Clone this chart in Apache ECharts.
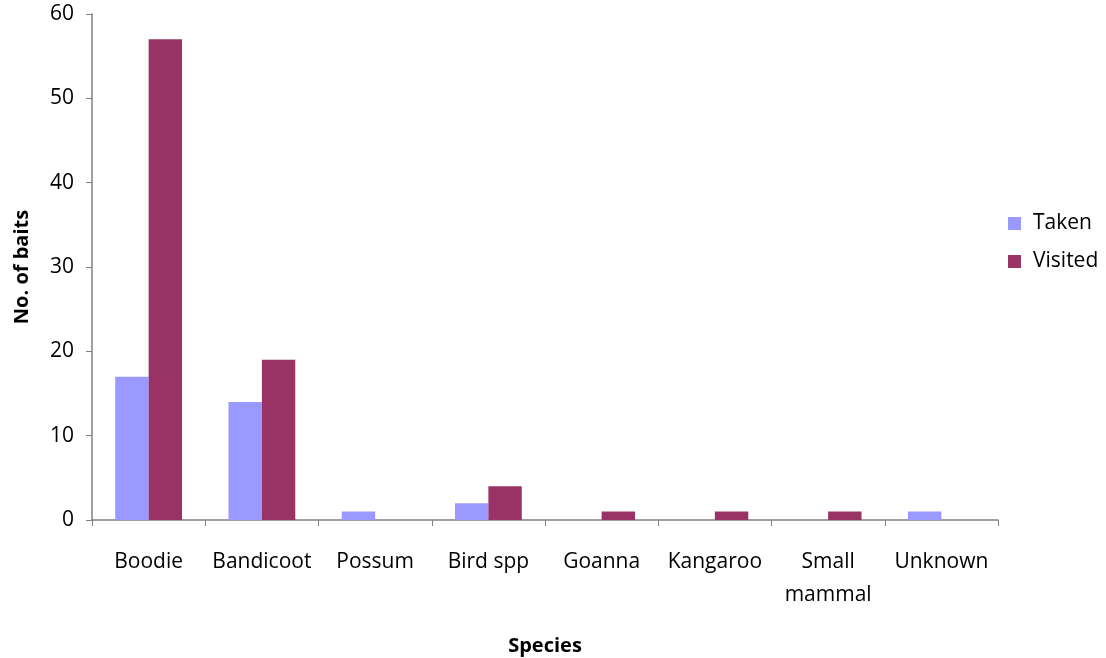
<!DOCTYPE html>
<html><head><meta charset="utf-8">
<script src="https://cdn.jsdelivr.net/npm/echarts@6/dist/echarts.min.js"></script>
<style>html,body{margin:0;padding:0;background:#fff}#c{width:1106px;height:658px}</style>
</head><body><div id="c"></div>
<script>
const categories = ['Boodie','Bandicoot','Possum','Bird spp','Goanna','Kangaroo','Small\nmammal','Unknown'];
const taken = [17,14,1,2,0,0,0,1];
const visited = [57,19,0,4,1,1,1,0];
const yTicks = {min:0, max:60, interval:10};
const FONT = 'Open Sans';
const chart = echarts.init(document.getElementById('c'));
chart.setOption({
  animation:false,
  textStyle:{fontFamily:FONT},
  grid:{left:92,right:108,top:14,bottom:138,outerBoundsMode:'none',containLabel:false},
  legend:{orient:'vertical',left:1008,top:213,padding:0,itemWidth:13,itemHeight:13,itemGap:17,
    textStyle:{fontFamily:FONT,fontSize:21,color:'#000',padding:[0,0,0,7]},icon:'rect',
    data:['Taken','Visited']},
  xAxis:{type:'category',data:categories,
    name:'Species',nameLocation:'middle',nameGap:116,
    nameTextStyle:{fontFamily:FONT,fontSize:20,fontWeight:'bold',color:'#000'},
    axisLine:{lineStyle:{color:'#808080',width:1.5}},
    axisTick:{show:true,length:6,lineStyle:{color:'#808080'}},
    axisLabel:{fontFamily:FONT,fontSize:21,color:'#000',margin:26,lineHeight:33,interval:0}},
  yAxis:{type:'value',min:yTicks.min,max:yTicks.max,interval:yTicks.interval,
    name:'No. of baits',nameLocation:'middle',nameGap:60,nameRotate:90,
    nameTextStyle:{fontFamily:FONT,fontSize:20,fontWeight:'bold',color:'#000'},
    splitLine:{show:false},
    axisLine:{show:true,lineStyle:{color:'#808080',width:1.5}},
    axisTick:{show:true,length:6,lineStyle:{color:'#808080'}},
    axisLabel:{fontFamily:FONT,fontSize:21,color:'#000',margin:18}},
  series:[
    {name:'Taken',type:'bar',data:taken,barGap:'0%',barCategoryGap:'41%',itemStyle:{color:'#9999FF'}},
    {name:'Visited',type:'bar',data:visited,barGap:'0%',barCategoryGap:'41%',itemStyle:{color:'#993366'}}
  ]
});
</script></body></html>
